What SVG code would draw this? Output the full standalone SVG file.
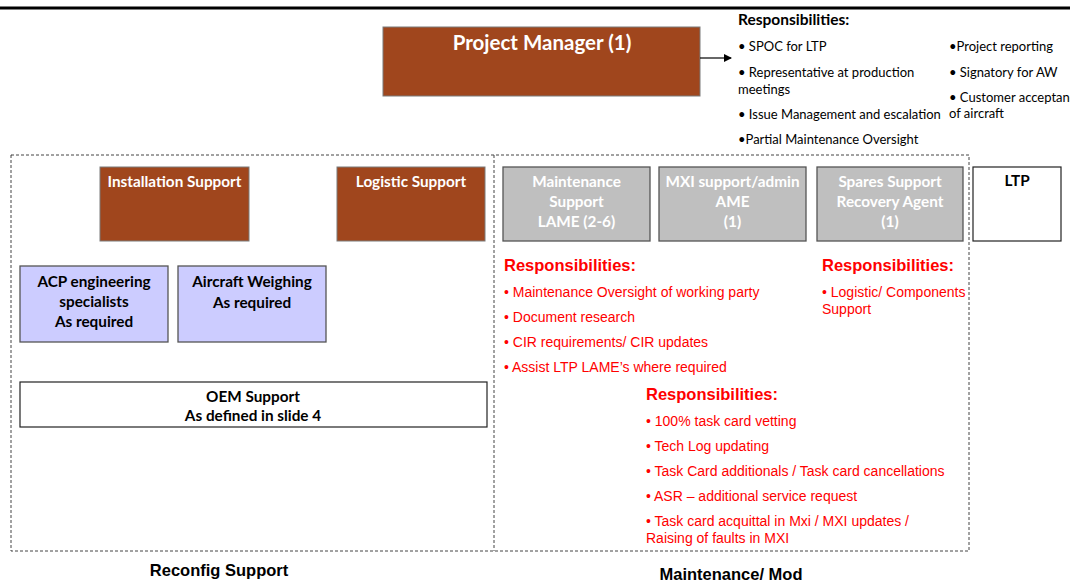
<svg xmlns="http://www.w3.org/2000/svg" width="1070" height="585" viewBox="0 0 1070 585">
<style>
.brown{fill:#A0461D;stroke:#7a7a7a;stroke-width:1}
.gray{fill:#BFBFBF;stroke:#555;stroke-width:1.3}
.lav{fill:#CCCCFF;stroke:#555;stroke-width:1.3}
.white{fill:#fff;stroke:#222;stroke-width:1.2}
.cb{font-family:Lato,"Liberation Sans",sans-serif;font-weight:bold;font-size:15.3px;text-anchor:middle}
.wt{fill:#fff}
.bk{fill:#000}
.blk{font-family:Lato,"Liberation Sans",sans-serif;font-size:13px;fill:#000}
.red{font-family:"Liberation Sans",Arial,sans-serif;font-size:14px;fill:#FF0000}
.redh{font-family:"Liberation Sans",Arial,sans-serif;font-size:16.5px;font-weight:bold;fill:#FF0000}
.lbl{font-family:"Liberation Sans",Arial,sans-serif;font-size:16.5px;font-weight:bold;fill:#000;text-anchor:middle}
.dash{fill:none;stroke:#444;stroke-width:1;stroke-dasharray:3,2}
</style>
<defs>
<marker id="ah" markerWidth="8" markerHeight="8" refX="7" refY="4" orient="auto" markerUnits="userSpaceOnUse">
<path d="M0,0 L8,4 L0,8 z" fill="#000"/>
</marker>
</defs>
<rect x="0" y="0" width="1070" height="585" fill="#fff"/>
<line x1="0" y1="8" x2="1070" y2="8" stroke="#000" stroke-width="3"/>

<g id="frames">
<rect class="dash" x="11" y="155" width="958" height="396"/>
<line class="dash" x1="494" y1="155" x2="494" y2="551"/>
</g>

<g id="project-manager">
<rect class="brown" x="383" y="27" width="317" height="69"/>
<text class="cb wt" x="542" y="50" style="font-size:20.5px">Project Manager (1)</text>
</g>

<g id="connectors">
<line x1="700" y1="58" x2="731" y2="58" stroke="#000" stroke-width="1.2" marker-end="url(#ah)"/>
</g>

<g id="pm-responsibilities">
<text class="blk" x="738" y="25" style="font-weight:bold;font-size:15.5px">Responsibilities:</text>
<text class="blk" x="738" y="51">• SPOC for LTP</text>
<text class="blk" x="738" y="77">• Representative at production</text>
<text class="blk" x="738" y="94">meetings</text>
<text class="blk" x="738" y="119">• Issue Management and escalation</text>
<text class="blk" x="738" y="144">•Partial Maintenance Oversight</text>
<text class="blk" x="949" y="51">•Project reporting</text>
<text class="blk" x="949" y="77">• Signatory for AW</text>
<text class="blk" x="949" y="102">• Customer acceptance</text>
<text class="blk" x="949" y="118">of aircraft</text>
</g>

<g id="installation-support">
<rect class="brown" x="100" y="167" width="149" height="74"/>
<text class="cb wt" x="174.5" y="187">Installation Support</text>
</g>
<g id="logistic-support">
<rect class="brown" x="337" y="167" width="148" height="74"/>
<text class="cb wt" x="411" y="187">Logistic Support</text>
</g>
<g id="acp-engineering">
<rect class="lav" x="20" y="266" width="148" height="76"/>
<text class="cb bk" x="94" y="287">ACP engineering</text>
<text class="cb bk" x="94" y="307">specialists</text>
<text class="cb bk" x="94" y="327">As required</text>
</g>
<g id="aircraft-weighing">
<rect class="lav" x="178" y="266" width="148" height="76"/>
<text class="cb bk" x="252" y="287">Aircraft Weighing</text>
<text class="cb bk" x="252" y="308">As required</text>
</g>
<g id="oem-support">
<rect class="white" x="20" y="382" width="467" height="45"/>
<text class="cb bk" x="253" y="402">OEM Support</text>
<text class="cb bk" x="253" y="421">As defined in slide 4</text>
</g>
<text class="lbl" x="219" y="576">Reconfig Support</text>

<g id="maintenance-support">
<rect class="gray" x="503" y="167" width="147" height="74"/>
<text class="cb wt" x="576.5" y="187">Maintenance</text>
<text class="cb wt" x="576.5" y="207">Support</text>
<text class="cb wt" x="576.5" y="227">LAME (2-6)</text>
</g>
<g id="mxi-support">
<rect class="gray" x="659" y="167" width="147" height="74"/>
<text class="cb wt" x="732.5" y="187">MXI support/admin</text>
<text class="cb wt" x="732.5" y="207">AME</text>
<text class="cb wt" x="732.5" y="227">(1)</text>
</g>
<g id="spares-support">
<rect class="gray" x="817" y="167" width="146" height="74"/>
<text class="cb wt" x="890" y="187">Spares Support</text>
<text class="cb wt" x="890" y="207">Recovery Agent</text>
<text class="cb wt" x="890" y="227">(1)</text>
</g>
<g id="ltp">
<rect class="white" x="973" y="167" width="88" height="74"/>
<text class="cb bk" x="1017" y="186">LTP</text>
</g>

<g id="maint-responsibilities">
<text class="redh" x="504" y="271">Responsibilities:</text>
<text class="red" x="504" y="297">• Maintenance Oversight of working party</text>
<text class="red" x="504" y="322">• Document research</text>
<text class="red" x="504" y="347">• CIR requirements/ CIR updates</text>
<text class="red" x="504" y="372">• Assist LTP LAME’s where required</text>
</g>
<g id="spares-responsibilities">
<text class="redh" x="822" y="271">Responsibilities:</text>
<text class="red" x="822" y="297">• Logistic/ Components</text>
<text class="red" x="822" y="314">Support</text>
</g>
<g id="mxi-responsibilities">
<text class="redh" x="646" y="400">Responsibilities:</text>
<text class="red" x="646" y="426">• 100% task card vetting</text>
<text class="red" x="646" y="451">• Tech Log updating</text>
<text class="red" x="646" y="476">• Task Card additionals / Task card cancellations</text>
<text class="red" x="646" y="501">• ASR – additional service request</text>
<text class="red" x="646" y="526">• Task card acquittal in Mxi / MXI updates /</text>
<text class="red" x="646" y="543">Raising of faults in MXI</text>
</g>
<text class="lbl" x="731" y="580">Maintenance/ Mod</text>
</svg>
